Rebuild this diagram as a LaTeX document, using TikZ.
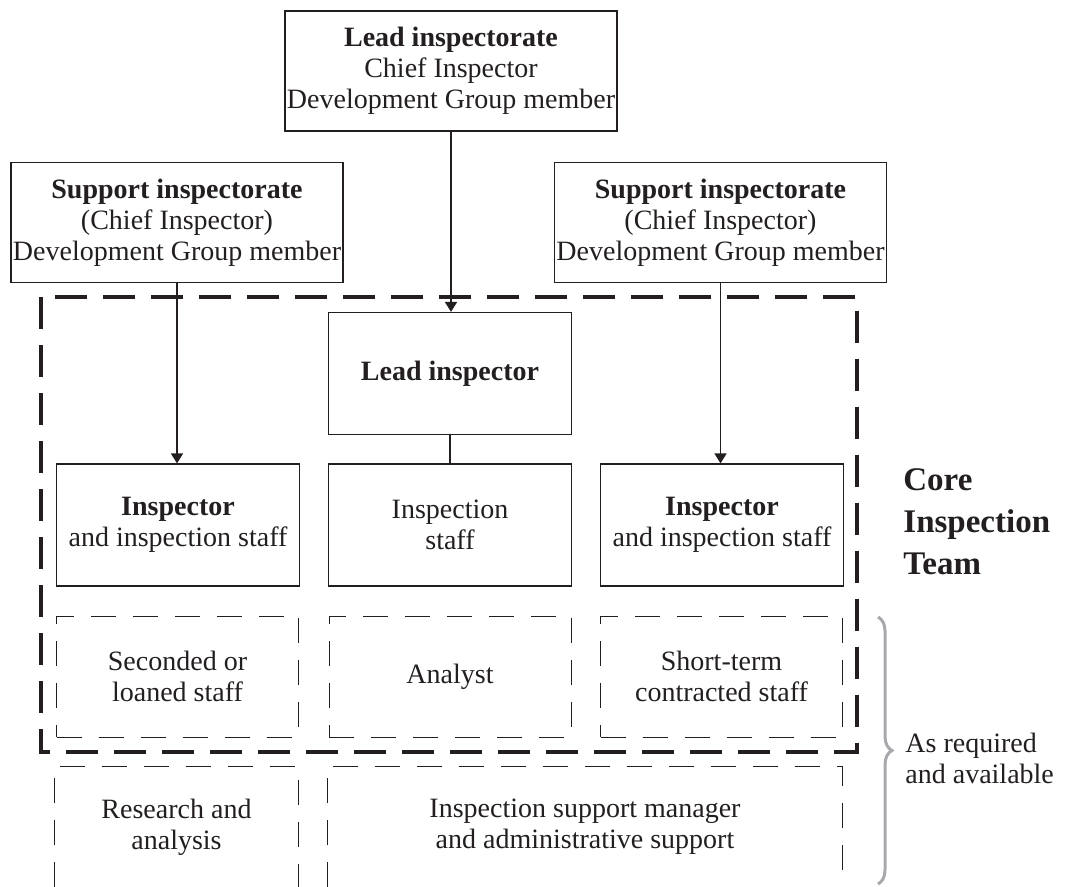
\documentclass[tikz,border=0pt]{standalone}
\usepackage{fontspec}
\setmainfont{Liberation Serif}
\usepackage{xcolor}
\usetikzlibrary{arrows.meta,decorations.pathreplacing}

\definecolor{inkline}{HTML}{231F20}
\definecolor{bracegray}{HTML}{A7A9AC}

\begin{document}
\begin{tikzpicture}[x=0.5pt,y=-0.5pt,
  every node/.style={font=\fontsize{14}{15.5}\selectfont,text=inkline,align=center,inner sep=0pt},
  topbox/.style={draw=inkline,line width=0.6pt,minimum width=166pt,minimum height=60pt},
  staffbox/.style={draw=inkline,line width=0.6pt,minimum width=121.5pt,minimum height=61pt},
  dashbox/.style={draw=inkline,line width=0.5pt,dash pattern=on 12.5pt off 8.5pt,
    minimum width=121pt,minimum height=60.5pt},
  openbox/.style={minimum height=60pt},
  dashline/.style={draw=inkline,line width=0.5pt,dash pattern=on 12.5pt off 8.5pt},
  corebox/.style={draw=inkline,line width=2pt,dash pattern=on 16pt off 8pt},
  link/.style={draw=inkline,line width=0.8pt},
  sidelabel/.style={align=left,anchor=west}]
  \useasboundingbox (0,0) rectangle (1069,887);

  % inspectorates
  \node[topbox] (lead) at (451,71)
    {\textbf{Lead inspectorate}\\Chief Inspector\\Development Group member};
  \node[topbox] (supL) at (177,222.5)
    {\textbf{Support inspectorate}\\(Chief Inspector)\\Development Group member};
  \node[topbox] (supR) at (720.5,222.5)
    {\textbf{Support inspectorate}\\(Chief Inspector)\\Development Group member};

  % core team
  \draw[corebox] (41,297) rectangle (857,752);
  \node[staffbox] (leadins) at (450,373.5) {\textbf{Lead inspector}};
  \node[staffbox] (insL) at (178,525) {\textbf{Inspector}\\and inspection staff};
  \node[staffbox] (insM) at (450,525) {Inspection\\staff};
  \node[staffbox] (insR) at (722,525) {\textbf{Inspector}\\and inspection staff};

  \node[dashbox] (secL) at (177.5,676.5) {Seconded or\\loaned staff};
  \node[dashbox] (anal) at (450,676.5) {Analyst};
  \node[dashbox] (secR) at (721.5,676.5) {Short-term\\contracted staff};

  % extra support
  \node[openbox,minimum width=121.5pt] (res) at (176.5,827) {Research and\\analysis};
  \node[openbox,minimum width=257pt] (isup) at (585,827)
    {Inspection support manager\\and administrative support};
  \draw[dashline] (res.south west) |- (res.north east) -- (res.south east);
  \draw[dashline] (isup.south west) |- (isup.north east) -- (isup.south east);

  % connectors
  \draw[link,-{Triangle[length=5pt,width=6pt]}] (lead.south) -- (lead.south |- leadins.north);
  \draw[link,-{Triangle[length=5pt,width=6pt]}] (supL.south) -- (supL.south |- insL.north);
  \draw[link,-{Triangle[length=5pt,width=6pt]}] (supR.south) -- (supR.south |- insR.north);
  \draw[link] (leadins.south) -- (leadins.south |- insM.north);

  % side labels
  \node[sidelabel,font=\fontsize{16.5}{21}\selectfont\bfseries] (core) at (903,522)
    {Core\\Inspection\\Team};
  \coordinate (bracetop) at (878,617);
  \coordinate (bracebot) at (878,884);
  \draw[bracegray,line width=1.5pt,decorate,decoration={brace,amplitude=7pt}]
    (bracetop) -- (bracebot);
  \node[sidelabel] (req) at (905,758) {As required\\and available};
\end{tikzpicture}
\end{document}
